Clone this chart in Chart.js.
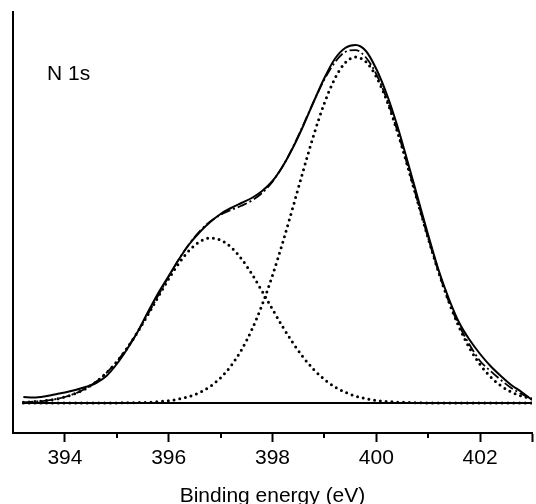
<!DOCTYPE html>
<html><head><meta charset="utf-8">
<script src="https://cdn.jsdelivr.net/npm/chart.js@4"></script>
<style>html,body{margin:0;padding:0;background:#fff}canvas{display:block}</style>
</head><body>
<canvas id="c" width="536" height="504"></canvas>
<script>
const energy = [393.2,393.4,393.6,393.8,394.0,394.2,394.4,394.6,394.8,395.0,
  395.2,395.4,395.6,395.8,396.0,396.2,396.4,396.6,396.8,397.0,
  397.2,397.4,397.6,397.8,398.0,398.2,398.4,398.6,398.8,399.0,
  399.2,399.4,399.6,399.8,400.0,400.2,400.4,400.6,400.8,401.0,
  401.2,401.4,401.6,401.8,402.0,402.2,402.4,402.6,402.8,403.0];
const measured = [6,5.5,6.5,8.5,10.5,13,16,20,27,39,
  54,71,91,110,127,144,159,171,181,189,
  195,200,205,212,222,237,256,278,302,325,
  344,355,358,352,334,309,278,242,205,168,
  133,104,80,63,49,37,27,18,11,3];
const envelope = [0.7,1.3,2.2,3.7,6.0,9.5,14.4,21.2,30.1,41.4,
  55.2,71.3,89.0,107.7,126.4,144.1,159.4,172.0,181.6,188.2,
  193.0,197.2,202.4,210.0,221.4,237.0,256.6,279.0,302.1,323.5,
  340.5,351.0,352.9,345.5,328.9,304.2,273.1,237.9,200.9,164.7,
  131.0,101.0,77,58,42,32,23,15,9,4];
const peakLow = [0.7,1.3,2.2,3.7,6.0,9.5,14.4,21.2,30.1,41.3,
  55.0,70.9,88.3,106.4,124.1,140.1,152.8,161.4,165.0,163.0,
  155.9,144.3,129.2,111.8,93.7,75.9,59.6,45.2,33.2,23.6,
  16.2,10.8,6.9,4.3,2.6,1.5,0.9,0.5,0.2,0.1,
  0,0,0,0,0,0,0,0,0,0];
const peakHigh = [0,0,0,0,0,0,0,0,0,0.1,
  0.2,0.4,0.7,1.3,2.3,4.0,6.6,10.6,16.6,25.2,
  37.1,52.9,73.2,98.2,127.7,161.1,197.0,233.8,268.9,299.9,
  324.3,340.2,346.0,341.2,326.3,302.7,272.2,237.4,200.7,164.6,
  130.9,100.9,75.4,54.7,38.5,26.2,17.3,11.1,6.9,4.2];
const baselineEnergy = [393.2, 403.0];
const baselineValue = [0, 0];
const majorTicks = [394, 396, 398, 400, 402, 403];
const labelledTicks = [394, 396, 398, 400, 402];
const minorTicks = [395, 397, 399, 401];
const xTitle = 'Binding energy (eV)';
const panelLabel = 'N 1s';

const FONT = '"Liberation Sans", Arial, Helvetica, sans-serif';
const pts = (xs, ys) => xs.map((x, i) => ({x: x, y: ys[i]}));

const extrasPlugin = {
  id: 'extras',
  afterDraw(chart) {
    const ctx = chart.ctx, xs = chart.scales.x, area = chart.chartArea;
    ctx.save();
    ctx.strokeStyle = '#000';
    ctx.lineWidth = 2;
    minorTicks.forEach(v => {
      const px = Math.round(xs.getPixelForValue(v));
      ctx.beginPath();
      ctx.moveTo(px, area.bottom);
      ctx.lineTo(px, area.bottom + 5);
      ctx.stroke();
    });
    ctx.fillStyle = '#000';
    ctx.font = '21px ' + FONT;
    ctx.textBaseline = 'middle';
    ctx.textAlign = 'left';
    ctx.fillText(panelLabel, area.left + 34, area.top + 62);
    ctx.restore();
  }
};

new Chart(document.getElementById('c'), {
  type: 'line',
  data: {
    datasets: [
      {data: pts(energy, measured), borderColor: '#000', borderWidth: 2, pointRadius: 0,
       cubicInterpolationMode: 'monotone', order: 0},
      {data: pts(energy, envelope), borderColor: '#000', borderWidth: 1.8, pointRadius: 0,
       borderDash: [10, 3, 2, 3], cubicInterpolationMode: 'monotone', order: 1},
      {data: pts(energy, peakLow), borderColor: '#000', borderWidth: 3, pointRadius: 0,
       borderDash: [0, 5.8], borderCapStyle: 'round', cubicInterpolationMode: 'monotone', order: 2},
      {data: pts(energy, peakHigh), borderColor: '#000', borderWidth: 3, pointRadius: 0,
       borderDash: [0, 5.8], borderCapStyle: 'round', cubicInterpolationMode: 'monotone', order: 2},
      {data: pts(baselineEnergy, baselineValue), borderColor: '#000', borderWidth: 2, pointRadius: 0, order: 3}
    ]
  },
  options: {
    responsive: false,
    animation: false,
    events: [],
    layout: {padding: {top: 12, left: 0, right: 0, bottom: 0}},
    plugins: {legend: {display: false}, tooltip: {enabled: false}},
    scales: {
      x: {
        type: 'linear', min: 393, max: 403,
        afterBuildTicks: s => { s.ticks = majorTicks.map(v => ({value: v})); },
        afterFit: s => { s.height = 71; },
        grid: {display: true, drawOnChartArea: false, drawTicks: true, tickLength: 9,
               tickWidth: 2, tickColor: '#000'},
        border: {display: true, color: '#000', width: 2},
        ticks: {color: '#000', font: {size: 21, family: FONT}, padding: 4,
                maxRotation: 0, autoSkip: false,
                callback: v => labelledTicks.includes(v) ? String(v) : ''},
        title: {display: true, text: xTitle, color: '#000',
                font: {size: 21, family: FONT, lineHeight: 1}, padding: {top: 0, bottom: -3}}
      },
      y: {
        type: 'linear', min: -30, max: 391,
        afterFit: s => { s.width = 13; },
        grid: {display: false, drawTicks: false},
        border: {display: true, color: '#000', width: 2},
        ticks: {display: false}
      }
    }
  },
  plugins: [extrasPlugin]
});
</script>
</body></html>
